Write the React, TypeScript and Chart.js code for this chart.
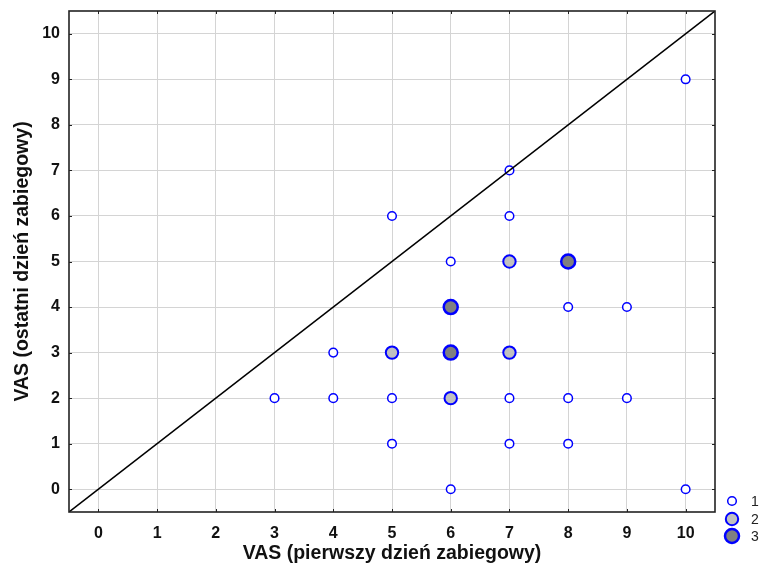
import React, { useEffect, useRef } from "react";
import { Chart, registerables } from "chart.js";

Chart.register(...registerables);

// Axis tick values
const xTickValues = [0, 1, 2, 3, 4, 5, 6, 7, 8, 9, 10];
const yTickValues = [0, 1, 2, 3, 4, 5, 6, 7, 8, 9, 10];
const axisMin = -0.5;
const axisMax = 10.5;

// Diagonal reference line (y = x)
const diagonalX = [-0.5, 10.5];
const diagonalY = [-0.5, 10.5];

// Observations appearing once (count = 1)
const count1X = [10, 7, 5, 7, 6, 8, 9, 4, 3, 4, 5, 7, 8, 9, 5, 7, 8, 6, 10];
const count1Y = [9, 7, 6, 6, 5, 4, 4, 3, 2, 2, 2, 2, 2, 2, 1, 1, 1, 0, 0];

// Observations appearing twice (count = 2)
const count2X = [7, 5, 7, 6];
const count2Y = [5, 3, 3, 2];

// Observations appearing three times (count = 3)
const count3X = [8, 6, 6];
const count3Y = [5, 4, 3];

const legendLabels = ["1", "2", "3"];

const xTitle = "VAS (pierwszy dzień zabiegowy)";
const yTitle = "VAS (ostatni dzień zabiegowy)";

const BLUE = "#0000ff";
const FONT = "'Liberation Sans', Arial, sans-serif";
const styles = [
  { fill: "#ffffff", r: 4.3, bw: 1.5 },
  { fill: "#c0c0c0", r: 6.2, bw: 2 },
  { fill: "#808080", r: 7, bw: 2.5 },
];

const zip = (xs: number[], ys: number[]) => xs.map((x, i) => ({ x, y: ys[i] }));

const framePlugin = {
  id: "frameTicks",
  afterDraw(chart: any) {
    const { ctx, chartArea } = chart;
    const { left, right, top, bottom } = chartArea;
    const xs = chart.scales.x;
    const ys = chart.scales.y;
    ctx.save();
    ctx.strokeStyle = "#222";
    ctx.lineWidth = 1;
    const tl = 3;
    ctx.beginPath();
    xTickValues.forEach((v) => {
      const px = Math.round(xs.getPixelForValue(v)) + 0.5;
      ctx.moveTo(px, top);
      ctx.lineTo(px, top + tl);
      ctx.moveTo(px, bottom);
      ctx.lineTo(px, bottom - tl);
    });
    yTickValues.forEach((v) => {
      const py = Math.round(ys.getPixelForValue(v)) + 0.5;
      ctx.moveTo(left, py);
      ctx.lineTo(left + tl, py);
      ctx.moveTo(right, py);
      ctx.lineTo(right - tl, py);
    });
    ctx.stroke();
    ctx.lineWidth = 1.6;
    ctx.strokeStyle = "#222";
    ctx.strokeRect(left, top, right - left, bottom - top);

    // legend
    const lx = 732;
    const lys = [501, 519, 536];
    legendLabels.forEach((lab, i) => {
      const s = styles[i];
      ctx.beginPath();
      ctx.arc(lx, lys[i], s.r, 0, Math.PI * 2);
      ctx.fillStyle = s.fill;
      ctx.fill();
      ctx.lineWidth = s.bw;
      ctx.strokeStyle = BLUE;
      ctx.stroke();
      ctx.fillStyle = "#222";
      ctx.font = `14px ${FONT}`;
      ctx.textAlign = "left";
      ctx.textBaseline = "middle";
      ctx.fillText(lab, 751, lys[i] + 1);
    });
    ctx.restore();
  },
};

export default function App() {
  const ref = useRef<HTMLCanvasElement | null>(null);
  useEffect(() => {
    if (!ref.current) return;
    const pointDs = (xs: number[], ys: number[], i: number, label: string) => ({
      type: "scatter" as const,
      label,
      data: zip(xs, ys),
      pointRadius: styles[i].r,
      pointHoverRadius: styles[i].r,
      pointBackgroundColor: styles[i].fill,
      pointBorderColor: BLUE,
      pointBorderWidth: styles[i].bw,
      showLine: false,
    });
    const chart = new Chart(ref.current, {
      type: "scatter",
      data: {
        datasets: [
          {
            type: "scatter",
            label: "diag",
            data: zip(diagonalX, diagonalY),
            showLine: true,
            borderColor: "#000",
            borderWidth: 1.5,
            pointRadius: 0,
            fill: false,
          } as any,
          pointDs(count1X, count1Y, 0, legendLabels[0]),
          pointDs(count2X, count2Y, 1, legendLabels[1]),
          pointDs(count3X, count3Y, 2, legendLabels[2]),
        ],
      },
      options: {
        responsive: false,
        animation: false,
        layout: { padding: { top: 11, right: 46, left: 0, bottom: 0 } },
        plugins: { legend: { display: false }, tooltip: { enabled: false } },
        scales: {
          x: {
            type: "linear",
            min: axisMin,
            max: axisMax,
            afterBuildTicks: (s: any) => {
              s.ticks = xTickValues.map((v) => ({ value: v }));
            },
            afterFit: (s: any) => {
              s.height = 58;
              s.paddingLeft = 0;
              s.paddingRight = 0;
            },
            grid: { color: "#d4d4d4", lineWidth: 1, drawTicks: false },
            border: { display: false },
            ticks: {
              padding: 12,
              color: "#111",
              font: { family: FONT, size: 16, weight: "bold" },
            },
            title: {
              display: true,
              text: xTitle,
              color: "#111",
              padding: { top: 0, bottom: 5 },
              font: { family: FONT, size: 19.5, weight: "bold" },
            },
          },
          y: {
            type: "linear",
            min: axisMin,
            max: axisMax,
            afterBuildTicks: (s: any) => {
              s.ticks = yTickValues.map((v) => ({ value: v }));
            },
            afterFit: (s: any) => {
              s.width = 69;
              s.paddingTop = 0;
              s.paddingBottom = 0;
            },
            grid: { color: "#d4d4d4", lineWidth: 1, drawTicks: false },
            border: { display: false },
            ticks: {
              padding: 9,
              color: "#111",
              font: { family: FONT, size: 16, weight: "bold" },
            },
            title: {
              display: true,
              text: yTitle,
              color: "#111",
              padding: { top: 11, bottom: 0 },
              font: { family: FONT, size: 19.5, weight: "bold" },
            },
          },
        },
      },
      plugins: [framePlugin],
    });
    return () => chart.destroy();
  }, []);
  return (
    <div style={{ position: "fixed", left: 0, top: 0, width: 761, height: 570, background: "#fff" }}>
      <canvas ref={ref} width={761} height={570} />
    </div>
  );
}
